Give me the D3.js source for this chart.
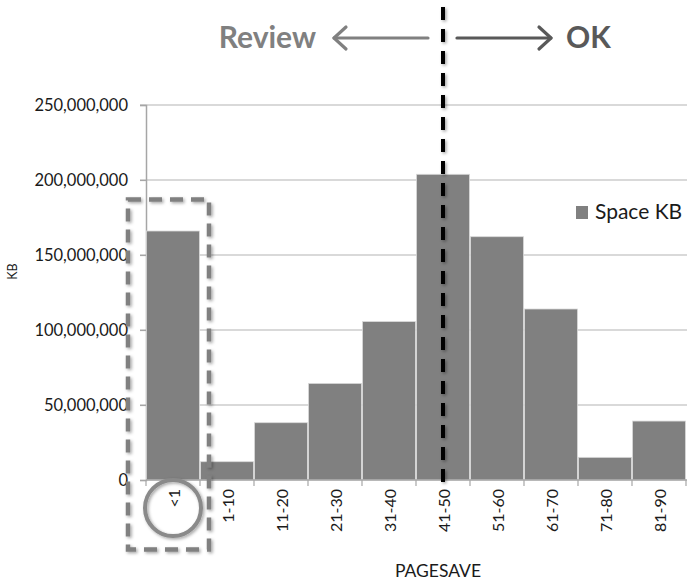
<!DOCTYPE html>
<html>
<head>
<meta charset="utf-8">
<script src="https://cdn.jsdelivr.net/npm/d3@7/dist/d3.min.js"></script>
<style>
  html, body { margin: 0; padding: 0; background: #fff; }
  svg { display: block; font-family: Lato, "Open Sans", sans-serif; }
</style>
</head>
<body>
<svg id="chart" width="687" height="583"></svg>
<script>
const categories = ["<1", "1-10", "11-20", "21-30", "31-40", "41-50", "51-60", "61-70", "71-80", "81-90"];
const spaceKB = [166000000, 12200000, 38200000, 64400000, 105600000, 203800000, 162200000, 114000000, 15100000, 39300000];
const yTicks = [0, 50000000, 100000000, 150000000, 200000000, 250000000];
const seriesName = "Space KB";
const xTitle = "PAGESAVE";
const yTitle = "KB";
const leftNote = "Review";
const rightNote = "OK";
const splitCategory = "41-50";
const highlightCategory = "<1";

const svg = d3.select("#chart");
const W = 687, H = 583;
const plot = { left: 146, right: 686, top: 105, bottom: 480 };

const x = d3.scaleBand().domain(categories).range([plot.left, plot.right]).padding(0);
const y = d3.scaleLinear().domain([0, 250000000]).range([plot.bottom, plot.top]);

const defs = svg.append("defs");
const f = defs.append("filter").attr("id", "shadow").attr("filterUnits", "userSpaceOnUse")
  .attr("x", 0).attr("y", 0).attr("width", W).attr("height", H);
f.append("feDropShadow").attr("dx", 1.5).attr("dy", 1.5).attr("stdDeviation", 1.5).attr("flood-color", "#000").attr("flood-opacity", 0.35);

// gridlines
svg.append("g").selectAll("line").data(yTicks.filter(d => d > 0)).join("line")
  .attr("x1", plot.left - 6).attr("x2", W)
  .attr("y1", d => y(d)).attr("y2", d => y(d))
  .attr("stroke", "#b3b3b3").attr("stroke-width", 1.2);

// y axis
const yAxis = svg.append("g").attr("transform", `translate(${plot.left},0)`)
  .call(d3.axisLeft(y).tickValues(yTicks).tickFormat(d3.format(",")).tickSize(6).tickPadding(12));
yAxis.select(".domain").attr("stroke", "#a6a6a6").attr("stroke-width", 1.5);
yAxis.selectAll(".tick line").attr("stroke", "#a6a6a6").attr("stroke-width", 1.2);
yAxis.selectAll(".tick text").attr("font-size", 16.5).attr("fill", "#1a1a1a").attr("font-family", "Lato, sans-serif");

// bars
svg.append("g").selectAll("rect").data(categories).join("rect")
  .attr("x", d => x(d) + 0.5)
  .attr("width", x.bandwidth() - 1)
  .attr("y", (d, i) => y(spaceKB[i]))
  .attr("height", (d, i) => y(0) - y(spaceKB[i]))
  .attr("fill", "#808080")
  .attr("stroke", "#d9d9d9").attr("stroke-width", 0.8);

// x axis
const xAxisG = svg.append("g");
xAxisG.append("line").attr("x1", plot.left).attr("x2", W).attr("y1", y(0)).attr("y2", y(0))
  .attr("stroke", "#a6a6a6").attr("stroke-width", 1.5);
const bounds = categories.map(c => x(c)).concat([x(categories[categories.length - 1]) + x.bandwidth()]);
xAxisG.selectAll("line.tk").data(bounds).join("line").attr("class", "tk")
  .attr("x1", d => d).attr("x2", d => d).attr("y1", y(0)).attr("y2", y(0) + 6)
  .attr("stroke", "#a6a6a6").attr("stroke-width", 1.2);
xAxisG.selectAll("text").data(categories).join("text")
  .attr("transform", d => `translate(${x(d) + x.bandwidth() / 2 + 1},${y(0) + 9}) rotate(-90)`)
  .attr("text-anchor", "end").attr("dy", "0.36em")
  .attr("font-size", 16).attr("fill", "#1a1a1a")
  .text(d => d);

// axis titles
svg.append("text").attr("x", (plot.left + plot.right) / 2 + 22).attr("y", 577)
  .attr("text-anchor", "middle").attr("font-size", 17.5).attr("fill", "#1a1a1a").text(xTitle);
svg.append("text").attr("transform", `translate(17,${(plot.top + plot.bottom) / 2 - 21}) rotate(-90)`)
  .attr("text-anchor", "middle").attr("font-size", 12.5).attr("fill", "#1a1a1a").text(yTitle);

// legend
const lg = svg.append("g").attr("transform", "translate(576,206)");
lg.append("rect").attr("width", 12).attr("height", 13).attr("fill", "#808080");
lg.append("text").attr("x", 19).attr("y", 13).attr("font-size", 21).attr("fill", "#1a1a1a").text(seriesName);

// highlight box and circle around "<1"
const hx = x(highlightCategory);
svg.append("rect")
  .attr("x", hx - 18).attr("y", y(187000000))
  .attr("width", x.bandwidth() + 27).attr("height", 350)
  .attr("fill", "none").attr("stroke", "#808080").attr("stroke-width", 4.5)
  .attr("stroke-dasharray", "13,8").attr("filter", "url(#shadow)");
svg.append("circle")
  .attr("cx", hx + x.bandwidth() / 2).attr("cy", y(0) + 28).attr("r", 28)
  .attr("fill", "none").attr("stroke", "#8a8a8a").attr("stroke-width", 4)
  .attr("filter", "url(#shadow)");

// split line
const sx = x(splitCategory) + x.bandwidth() / 2;
svg.append("line").attr("x1", sx).attr("x2", sx).attr("y1", 7).attr("y2", y(0) + 5)
  .attr("stroke", "#000").attr("stroke-width", 4).attr("stroke-dasharray", "13,9")
  .attr("filter", "url(#shadow)");

// arrows
const ay = 38;
function arrow(x1, x2, color) {
  const g = svg.append("g").attr("stroke", color).attr("stroke-width", 3.2).attr("fill", "none")
    .attr("stroke-linecap", "round").attr("stroke-linejoin", "round");
  g.append("line").attr("x1", x1).attr("x2", x2).attr("y1", ay).attr("y2", ay);
  const s = Math.sign(x2 - x1);
  g.append("polyline").attr("points", `${x2 - s * 12},${ay - 11} ${x2},${ay} ${x2 - s * 12},${ay + 11}`);
}
arrow(sx - 15, sx - 109, "#808080");
arrow(sx + 14, sx + 108, "#595959");

svg.append("text").attr("x", sx - 127).attr("y", 48).attr("text-anchor", "end")
  .attr("font-size", 30).attr("font-weight", "bold").attr("fill", "#808080").text(leftNote);
svg.append("text").attr("x", sx + 123).attr("y", 48).attr("text-anchor", "start")
  .attr("font-size", 30).attr("font-weight", "bold").attr("fill", "#595959").text(rightNote);
</script>
</body>
</html>
